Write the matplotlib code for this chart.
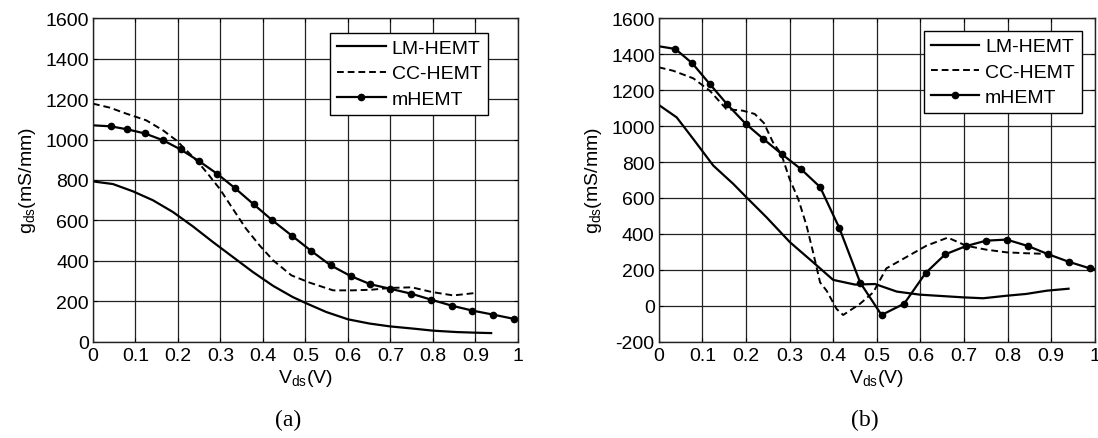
import matplotlib
matplotlib.use("Agg")
import matplotlib.pyplot as plt

plt.rcParams['font.family'] = ['Liberation Sans', 'DejaVu Sans']
plt.rcParams['mathtext.fontset'] = 'custom'
plt.rcParams['mathtext.rm'] = 'Liberation Sans'
plt.rcParams['mathtext.it'] = 'Liberation Sans'
plt.rcParams['axes.unicode_minus'] = False

# ---- panel (a) ----
a_lm_x = [0, 0.047, 0.094, 0.141, 0.188, 0.235, 0.282, 0.329, 0.376, 0.424, 0.47, 0.502, 0.549, 0.60, 0.651, 0.699, 0.754, 0.80, 0.856, 0.90, 0.937]
a_lm_y = [793, 780, 744, 700, 642, 571, 494, 420, 346, 277, 222, 191, 148, 112, 91, 77, 66, 56, 49, 46, 44]
a_cc_x = [0, 0.04, 0.078, 0.125, 0.165, 0.196, 0.22, 0.247, 0.27, 0.298, 0.329, 0.36, 0.392, 0.424, 0.467, 0.51, 0.565, 0.61, 0.655, 0.70, 0.75, 0.797, 0.848, 0.90]
a_cc_y = [1177, 1157, 1128, 1095, 1045, 996, 946, 889, 831, 757, 658, 560, 477, 403, 329, 293, 255, 255, 258, 267, 270, 247, 230, 242]
a_m_x = [0, 0.042, 0.081, 0.122, 0.165, 0.206, 0.249, 0.292, 0.334, 0.378, 0.422, 0.468, 0.514, 0.559, 0.606, 0.653, 0.699, 0.748, 0.796, 0.845, 0.893, 0.942, 0.991, 1.0]
a_m_y = [1070, 1065, 1050, 1030, 996, 951, 894, 831, 760, 680, 601, 525, 449, 379, 326, 285, 263, 239, 209, 179, 155, 135, 114, 112]
a_m_mark = list(range(1, 23))

# ---- panel (b) ----
b_lm_x = [0, 0.041, 0.079, 0.125, 0.171, 0.201, 0.247, 0.301, 0.354, 0.40, 0.45, 0.496, 0.546, 0.599, 0.645, 0.698, 0.744, 0.798, 0.843, 0.89, 0.94]
b_lm_y = [1117, 1048, 928, 780, 678, 604, 493, 354, 243, 145, 119, 122, 80, 63, 56, 48, 43, 57, 67, 85, 96]
b_cc_x = [0, 0.033, 0.079, 0.117, 0.155, 0.193, 0.22, 0.241, 0.262, 0.281, 0.30, 0.32, 0.339, 0.354, 0.37, 0.385, 0.408, 0.423, 0.461, 0.492, 0.522, 0.56, 0.614, 0.663, 0.705, 0.751, 0.798, 0.843, 0.897]
b_cc_y = [1326, 1307, 1265, 1196, 1094, 1085, 1067, 1017, 909, 844, 706, 594, 446, 298, 131, 85, -17, -50, 11, 76, 209, 261, 335, 380, 335, 313, 298, 293, 289]
b_m_x = [0, 0.038, 0.077, 0.117, 0.157, 0.199, 0.24, 0.282, 0.326, 0.37, 0.414, 0.462, 0.511, 0.563, 0.612, 0.657, 0.705, 0.751, 0.798, 0.847, 0.894, 0.94, 0.989, 1.0]
b_m_y = [1443, 1428, 1348, 1233, 1120, 1013, 928, 844, 761, 661, 434, 130, -50, 13, 183, 287, 333, 363, 369, 333, 287, 246, 209, 205]
b_m_mark = list(range(1, 23))

labels = ['LM-HEMT', 'CC-HEMT', 'mHEMT']
xticks = [0, 0.1, 0.2, 0.3, 0.4, 0.5, 0.6, 0.7, 0.8, 0.9, 1]
xticklabels = ['0', '0.1', '0.2', '0.3', '0.4', '0.5', '0.6', '0.7', '0.8', '0.9', '1']

fig = plt.figure(figsize=(10.98, 4.39), dpi=100)
axA = fig.add_axes([0.0847, 0.2187, 0.387, 0.738])
axB = fig.add_axes([0.600, 0.2187, 0.397, 0.738])

def draw(ax, lm, cc, m, mark, ylim, yticks, legend_anchor):
    ax.plot(lm[0], lm[1], color='black', lw=1.6, label=labels[0])
    ax.plot(cc[0], cc[1], color='black', lw=1.4, ls=(0, (3.5, 2)), label=labels[1])
    ax.plot(m[0], m[1], color='black', lw=1.6, marker='o', ms=4.5, markevery=mark, label=labels[2])
    ax.set_xlim(0, 1)
    ax.set_ylim(*ylim)
    ax.set_xticks(xticks)
    ax.set_xticklabels(xticklabels)
    ax.set_yticks(yticks)
    ax.grid(True, color='#222222', lw=0.9)
    ax.tick_params(direction='in', labelsize=14, length=3, top=True, right=True)
    ax.tick_params(axis='x', pad=3.5)
    ax.tick_params(axis='y', pad=3)
    for s in ax.spines.values():
        s.set_linewidth(1.0)
        s.set_color('#222222')
    ax.set_xlabel(r'$\mathregular{V_{ds}}$(V)', fontsize=14, labelpad=2)
    ax.set_ylabel(r'$\mathregular{g_{ds}}$(mS/mm)', fontsize=14, labelpad=5)
    leg = ax.legend(loc='upper right', bbox_to_anchor=legend_anchor, fontsize=14,
                    frameon=True, fancybox=False, edgecolor='black', framealpha=1,
                    handlelength=2.5, borderpad=0.35, labelspacing=0.4, handletextpad=0.3,
                    borderaxespad=0)
    leg.get_frame().set_linewidth(1.0)

draw(axA, (a_lm_x, a_lm_y), (a_cc_x, a_cc_y), (a_m_x, a_m_y), a_m_mark,
     (0, 1600), [0, 200, 400, 600, 800, 1000, 1200, 1400, 1600], (0.93, 0.955))
draw(axB, (b_lm_x, b_lm_y), (b_cc_x, b_cc_y), (b_m_x, b_m_y), b_m_mark,
     (-200, 1600), [-200, 0, 200, 400, 600, 800, 1000, 1200, 1400, 1600], (0.97, 0.96))

fig.text(288 / 1098, 1 - 420 / 439, '(a)', family='Liberation Serif', fontsize=17, ha='center', va='center')
fig.text(865 / 1098, 1 - 420 / 439, '(b)', family='Liberation Serif', fontsize=17, ha='center', va='center')

fig.savefig('out.png', dpi=100)
